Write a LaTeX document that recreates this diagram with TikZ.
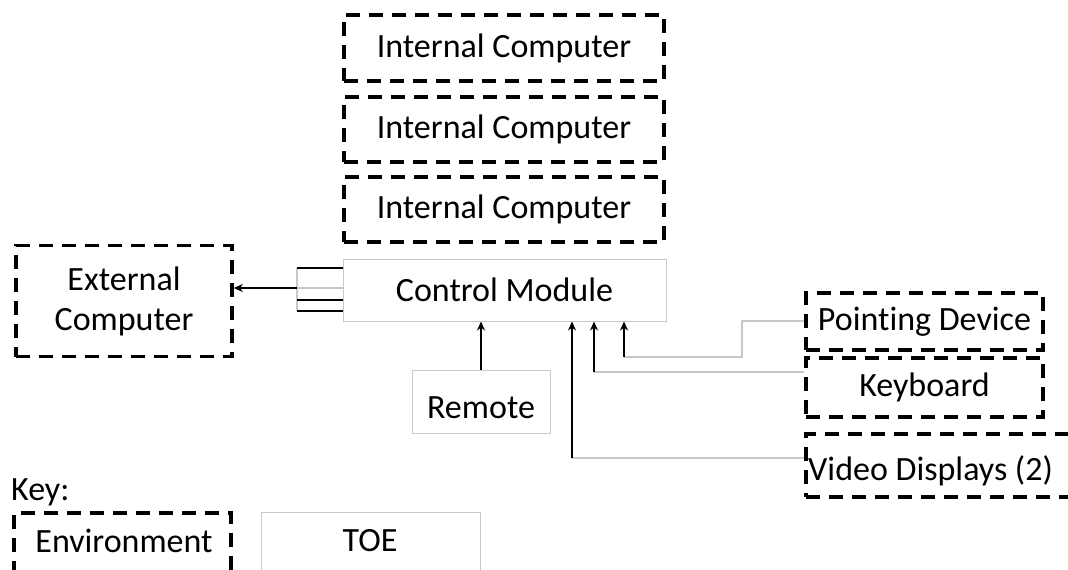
\documentclass[tikz,border=0pt]{standalone}
\usepackage{fontspec}
\setmainfont{Carlito}[Ligatures={NoCommon}]
\usetikzlibrary{arrows.meta}
\definecolor{lgray}{RGB}{200,200,200}
\begin{document}
\begin{tikzpicture}[x=1pt,y=-1pt,
  font=\fontsize{34}{40}\selectfont,
  envbox/.style={draw=black,line width=3.6pt,dash pattern=on 14pt off 9pt,inner sep=0pt},
  toebox/.style={draw=lgray,line width=1pt,inner sep=0pt},
  wire/.style={draw=lgray,line width=1.2pt},
  feed/.style={draw=black,line width=1.8pt,-{Stealth[length=9pt,width=8pt]}},
  busline/.style={draw=black,line width=1.8pt},
  lbl/.style={inner sep=0pt}]
\useasboundingbox (0,0) rectangle (1068,570);
\clip (0,0) rectangle (1068,570);
% internal computers
\node[envbox,minimum width=320pt,minimum height=66pt] (ic1) at (504,48) {Internal Computer};
\node[envbox,minimum width=320pt,minimum height=65pt] (ic2) at (504,129.5) {Internal Computer};
\node[envbox,minimum width=320pt,minimum height=65pt] (ic3) at (504,209.5) {Internal Computer};
% control module
\node[toebox,minimum width=323pt,minimum height=62pt] (cm) at (504.5,290) {Control Module};
% external computer
\node[envbox,minimum width=216pt,minimum height=111pt,align=center] (ext) at (124,301) {External\\Computer};
% remote
\node[toebox,minimum width=138pt,minimum height=63pt] (rem) at (481,401.5) {};
\node[lbl] (remt) at (481,408) {Remote};
% peripherals
\node[envbox,minimum width=237pt,minimum height=57pt] (pd) at (924.5,321.5) {Pointing Device};
\node[envbox,minimum width=237pt,minimum height=59pt] (kb) at (924.5,387.5) {Keyboard};
\node[envbox,minimum width=284pt,minimum height=63pt] (vd) at (948,465.5) {};
\node[lbl,anchor=base west] (vdt) at (808,480) {Video Displays (2)};
% key
\node[lbl,anchor=base west] (key) at (11,500) {Key:};
\node[envbox,minimum width=217pt,minimum height=70pt] (env) at (122.5,548) {};
\node[lbl] (envt) at (124,541) {Environment};
\node[toebox,minimum width=219pt,minimum height=70pt] (toe) at (370.5,547) {};
\node[lbl] (toet) at (370,541) {TOE};
% bus on left of control module
\coordinate (b1) at (297,268);
\coordinate (b2) at (297,288);
\coordinate (b3) at (297,300);
\coordinate (b4) at (297,311);
\draw[wire] (b1) -- (b4);
\draw[wire] (b2) -- (b2 -| cm.west);
\draw[busline] (b1) -- (b1 -| cm.west);
\draw[busline] (b3) -- (b3 -| cm.west);
\draw[busline] (b4) -- (b4 -| cm.west);
\draw[feed] (b2) -- (b2 -| ext.east);
% remote
\draw[feed] (rem.north) -- (rem.north |- cm.south);
% pointing device
\coordinate (p1) at (742,321);
\coordinate (p2) at (742,357);
\coordinate (p3) at (624,357);
\draw[wire] (p1 -| pd.west) -- (p1) -- (p2) -- (p3);
\draw[feed] (p3) -- (p3 |- cm.south);
% keyboard
\coordinate (k1) at (594,372);
\draw[wire] (k1 -| kb.west) -- (k1);
\draw[feed] (k1) -- (k1 |- cm.south);
% video displays
\coordinate (v1) at (572,458);
\draw[wire] (v1 -| vd.west) -- (v1);
\draw[feed] (v1) -- (v1 |- cm.south);
\end{tikzpicture}
\end{document}
